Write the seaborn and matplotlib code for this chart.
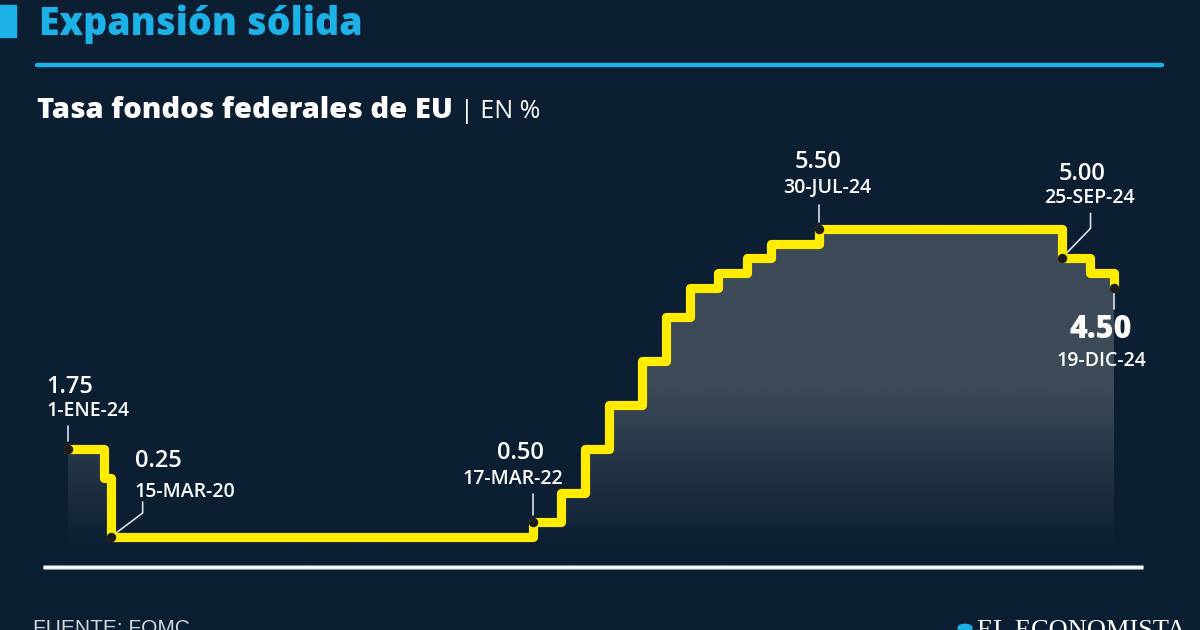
import numpy as np
import pandas as pd
import matplotlib
matplotlib.use("Agg")
import matplotlib.pyplot as plt
import matplotlib.dates as mdates
from matplotlib.patches import Rectangle, Circle
from matplotlib.colors import to_rgb
import seaborn as sns

# ---------------- data ----------------
dates = ["2020-01-01", "2020-03-03", "2020-03-15", "2022-03-17", "2022-05-05",
         "2022-06-16", "2022-07-28", "2022-09-22", "2022-11-03", "2022-12-15",
         "2023-02-02", "2023-03-23", "2023-05-04", "2023-07-27", "2024-09-19",
         "2024-11-08", "2024-12-19"]
rates = [1.75, 1.25, 0.25, 0.50, 1.00, 1.75, 2.50, 3.25, 4.00, 4.50,
         4.75, 5.00, 5.25, 5.50, 5.00, 4.75, 4.50]
label_idx = [0, 2, 3, 13, 14, 16]
label_values = ["1.75", "0.25", "0.50", "5.50", "5.00", "4.50"]
label_dates = ["1-ENE-24", "15-MAR-20", "17-MAR-22", "30-JUL-24", "25-SEP-24", "19-DIC-24"]

title = "Expansión sólida"
subtitle = "Tasa fondos federales de EU"
unit = "| EN %"
source = "FUENTE: FOMC"
brand = "EL ECONOMISTA"

# ---------------- style ----------------
BG = "#0b1e32"
CYAN = "#1cb2e8"
YELLOW = "#ffec00"
FILL = "#3d4a58"
W, H = 1200, 630

sns.set_theme(style="dark", rc={"axes.facecolor": BG, "figure.facecolor": BG})
plt.rcParams["font.family"] = ["Open Sans", "DejaVu Sans"]

df = pd.DataFrame({"fecha": pd.to_datetime(dates), "tasa": rates})

fig = plt.figure(figsize=(12, 6.3), dpi=100)
fig.patch.set_facecolor(BG)
ax = fig.add_axes([0, 0, 1, 1])
ax.set_facecolor(BG)

# scale: map first date -> x=68px, last -> x=1114px ; 0.25 -> row 537, 5.5 -> row 229
d0 = mdates.date2num(df["fecha"].iloc[0])
d1 = mdates.date2num(df["fecha"].iloc[-1])
x0_px, x1_px = 68, 1114
ppd = (x1_px - x0_px) / (d1 - d0)
r_lo, r_hi = 537, 229
v_lo, v_hi = 0.25, 5.50
ppv = (r_lo - r_hi) / (v_hi - v_lo)
xlim = (d0 - x0_px / ppd, d0 + (W - x0_px) / ppd)
ylim = (v_lo - (H - r_lo) / ppv, v_lo + r_lo / ppv)

# gradient fill under the step line
xs = mdates.date2num(df["fecha"])
poly = ax.fill_between(xs, df["tasa"], -0.2, step="post", color="none", lw=0)
grad_lo, grad_hi = 0.05, 2.8
nrows = 300
vals = np.linspace(ylim[0], v_hi + 0.2, nrows)
t = np.clip((vals - grad_lo) / (grad_hi - grad_lo), 0, 1)[:, None]
c0 = np.array(to_rgb(BG)); c1 = np.array(to_rgb(FILL))
img = (c0 + (c1 - c0) * t)[:, None, :].repeat(2, axis=1)
im = ax.imshow(img, extent=[d0, d1, ylim[0], v_hi + 0.2], origin="lower",
               aspect="auto", zorder=1, interpolation="bilinear")
im.set_clip_path(poly.get_paths()[0], transform=ax.transData)

# step line
sns.lineplot(data=df, x="fecha", y="tasa", ax=ax, drawstyle="steps-post",
             color=YELLOW, linewidth=6.6, solid_joinstyle="round",
             solid_capstyle="round", zorder=3, legend=False)

ax.set_xlim(xlim)
ax.set_ylim(ylim)
ax.set_axis_off()

# baseline
bx = [xlim[0] + 43 / ppd, xlim[0] + 1143 / ppd]
by = [ylim[0] + (H - 567) / ppv] * 2
ax.plot(bx, by, color="#7d8a98", lw=3.6, solid_capstyle="butt", zorder=2)
ax.plot(bx, by, color="white", lw=2.0, solid_capstyle="butt", zorder=2)

# annotations
def off(x, y, dx, dy):
    p = ax.transData.transform((x, y))
    return ax.transData.inverted().transform((p[0] + dx, p[1] + dy))

LEAD = "#d9dee3"
specs = [
    (-22, 56, -22, 33, "left", [(0, 8), (0, 23)], False),
    (24, 70, 24, 40, "left", [(0, 0), (32, 24), (32, 35)], False),
    (-12, 63, -20, 38, "center", [(0, 7), (0, 28)], False),
    (-1, 61, 8, 36, "center", [(0, 7), (0, 24)], False),
    (21, 78, 28, 55, "center", [(0, 0), (29, 30), (29, 45)], False),
    (-13, -50, -13, -78, "center", [(0, -5), (0, -21)], True),
]
for i, val, dlab, sp in zip(label_idx, label_values, label_dates, specs):
    x, y = xs[i], rates[i]
    vdx, vdy, ddx, ddy, ha, path, big = sp
    pts = np.array([off(x, y, px, py) for px, py in path])
    ax.plot(pts[:, 0], pts[:, 1], color=LEAD, lw=1.2, zorder=2.5)
    ax.plot([x], [y], "o", color="#1c1c1c", ms=5.8, zorder=4)
    ax.annotate(val, (x, y), xytext=(vdx, vdy), textcoords="offset pixels",
                ha=ha, va="baseline", color="white",
                fontsize=22 if big else 17, fontweight="heavy" if big else "semibold")
    ax.annotate(dlab, (x, y), xytext=(ddx, ddy), textcoords="offset pixels",
                ha=ha, va="baseline", color="white", fontsize=14, fontweight="semibold")

# header
def fx(px): return px / W
def fy(py): return 1 - py / H

fig.patches.append(Rectangle((0, fy(37)), fx(16), 32 / H, transform=fig.transFigure,
                             color=CYAN, zorder=5))
fig.text(fx(39), fy(35), title, color=CYAN, fontsize=27, fontweight="heavy",
         va="baseline", ha="left")
fig.lines.append(plt.Line2D([fx(37), fx(1162)], [fy(64.5)] * 2, transform=fig.transFigure,
                            color=CYAN, lw=3.2))
fig.text(fx(37), fy(118), subtitle, color="white", fontsize=21, fontweight="heavy",
         va="baseline", ha="left")
fig.text(fx(460), fy(118), unit, color="white", fontsize=18, fontweight="normal",
         va="baseline", ha="left")

# footer (cut off at the bottom edge as in the original)
fig.text(fx(33), fy(619), source, color="#d0d6dc", fontsize=15,
         family=["Liberation Sans Narrow", "Liberation Sans"], va="top", ha="left")
fig.text(fx(977), fy(620), brand, color="white", fontsize=19,
         family=["Liberation Serif", "DejaVu Serif"], va="top", ha="left")
fig.patches.append(Circle((fx(965), fy(628)), 7 / W, transform=fig.transFigure,
                          color=CYAN, zorder=5))

fig.savefig("out.png", dpi=100, facecolor=BG)
